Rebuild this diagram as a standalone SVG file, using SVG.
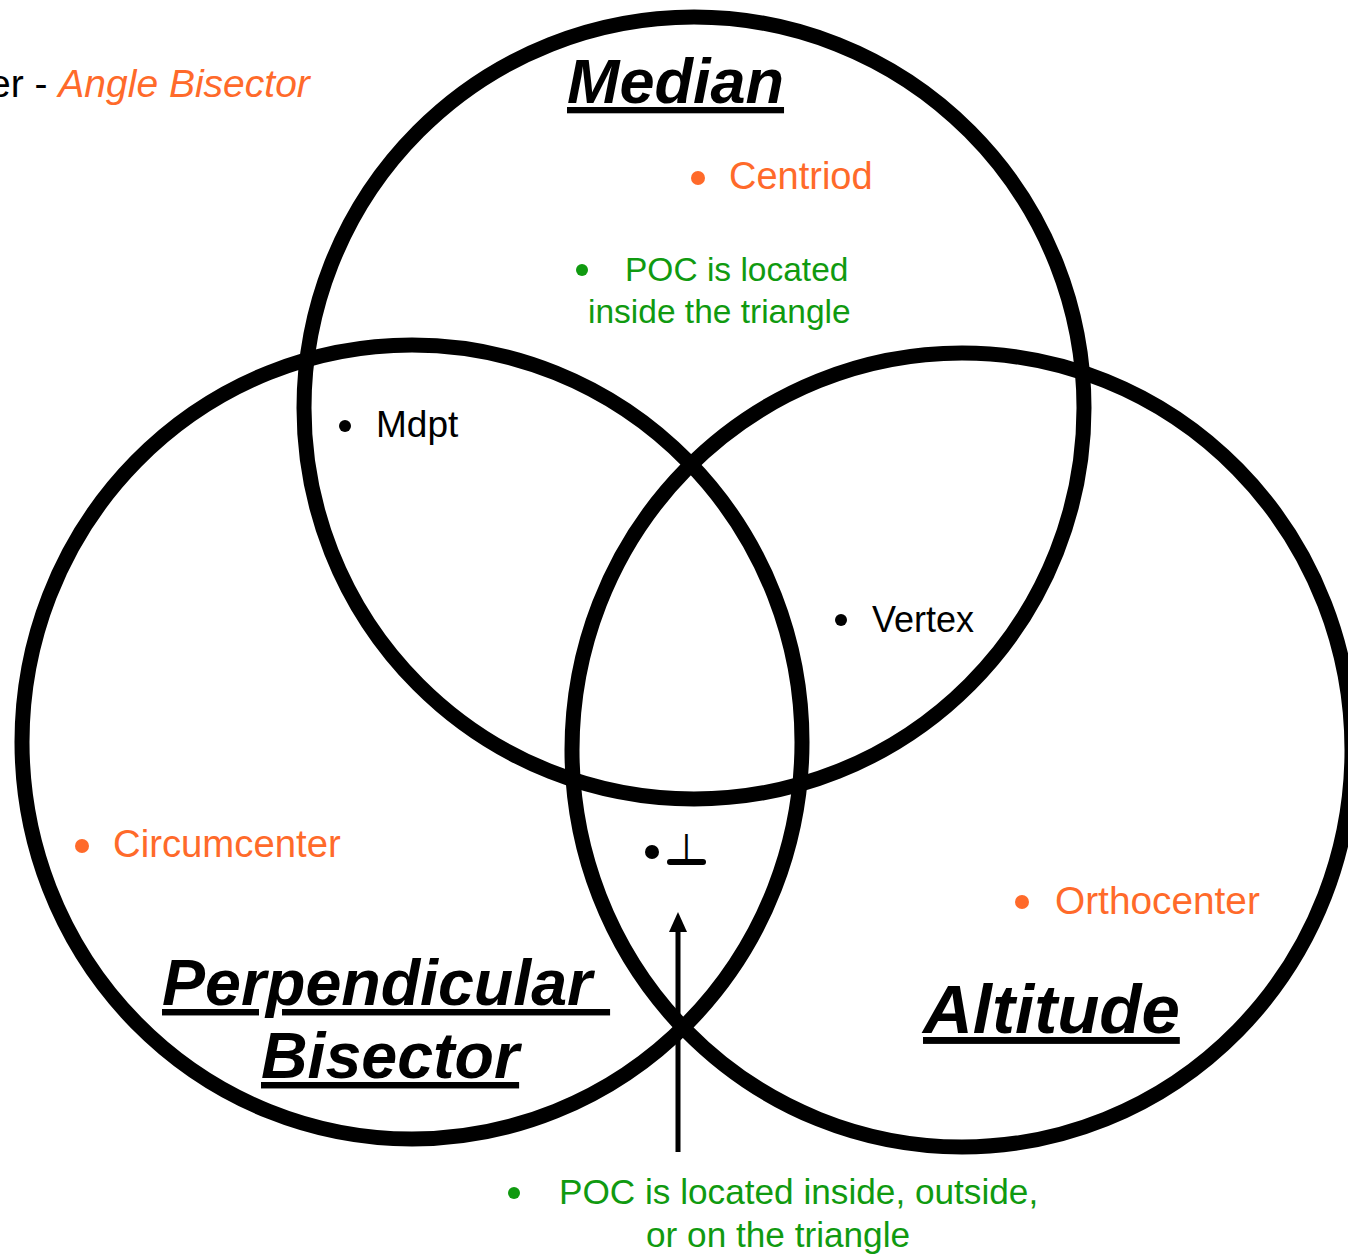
<svg xmlns="http://www.w3.org/2000/svg" width="1348" height="1258" viewBox="0 0 1348 1258">
  <style>
    text { font-family: "Liberation Sans", Arial, sans-serif; }
    .ring { fill: none; stroke: #000; stroke-width: 15; }
    .title { font-weight: bold; font-style: italic; text-decoration: underline; fill: #000; }
    .orange { fill: #ff6a2a; }
    .green { fill: #109a10; }
    .black { fill: #000; }
    .conn { stroke: #000; stroke-width: 5; fill: none; }
  </style>
  <defs>
    <marker id="arrowhead" viewBox="0 0 20 18" refX="12" refY="9" markerWidth="20" markerHeight="18" orient="auto" markerUnits="userSpaceOnUse">
      <path d="M0,0 L20,9 L0,18 Z" fill="#000"/>
    </marker>
  </defs>
  <rect width="1348" height="1258" fill="#fff"/>

  <!-- heading line, clipped at the left edge -->
  <g id="legend">
    <text x="-11" y="97" font-size="39" class="black">er - <tspan class="orange" font-style="italic">Angle Bisector</tspan></text>
  </g>

  <!-- three overlapping sets -->
  <g id="median">
    <ellipse class="ring" cx="694" cy="408" rx="390" ry="391"/>
    <text class="title" x="567" y="103" font-size="63">Median</text>
    <circle class="orange" cx="698" cy="178" r="7"/>
    <text class="orange" x="729" y="189" font-size="38">Centriod</text>
    <circle class="green" cx="582" cy="270" r="6"/>
    <text class="green" font-size="33.5"><tspan x="625" y="281">POC is located</tspan><tspan x="588" y="323">inside the triangle</tspan></text>
  </g>

  <g id="perpendicular-bisector">
    <ellipse class="ring" cx="412" cy="742" rx="390" ry="397"/>
    <circle class="orange" cx="82" cy="846" r="7"/>
    <text class="orange" x="113" y="857" font-size="38.3">Circumcenter</text>
    <text class="title" font-size="64.5"><tspan x="162" y="1005">Perpendicular </tspan><tspan x="261" y="1078">Bisector</tspan></text>
  </g>

  <g id="altitude">
    <ellipse class="ring" cx="962" cy="750" rx="390" ry="397"/>
    <circle class="orange" cx="1022" cy="902" r="7"/>
    <text class="orange" x="1055" y="914" font-size="38.8">Orthocenter</text>
    <text class="title" x="923" y="1033" font-size="69">Altitude</text>
  </g>

  <!-- overlap labels -->
  <g id="median-perp">
    <circle class="black" cx="345" cy="426" r="6"/>
    <text class="black" x="376" y="437" font-size="37">Mdpt</text>
  </g>
  <g id="median-altitude">
    <circle class="black" cx="841" cy="620" r="6"/>
    <text class="black" x="872" y="632" font-size="36">Vertex</text>
  </g>
  <g id="perp-altitude">
    <circle class="black" cx="652" cy="852" r="7"/>
    <text class="black" x="686" y="862" font-size="40" text-anchor="middle">⊥</text>
    <line x1="670" y1="862" x2="703" y2="862" stroke="#000" stroke-width="6" stroke-linecap="round"/>
  </g>

  <!-- arrow to the shared note -->
  <g id="connectors">
    <line class="conn" x1="678" y1="1152" x2="678" y2="920" marker-end="url(#arrowhead)"/>
  </g>

  <g id="note">
    <circle class="green" cx="514" cy="1193" r="6"/>
    <text class="green" font-size="35.2"><tspan x="559" y="1204">POC is located inside, outside,</tspan><tspan x="646" y="1247">or on the triangle</tspan></text>
  </g>
</svg>
